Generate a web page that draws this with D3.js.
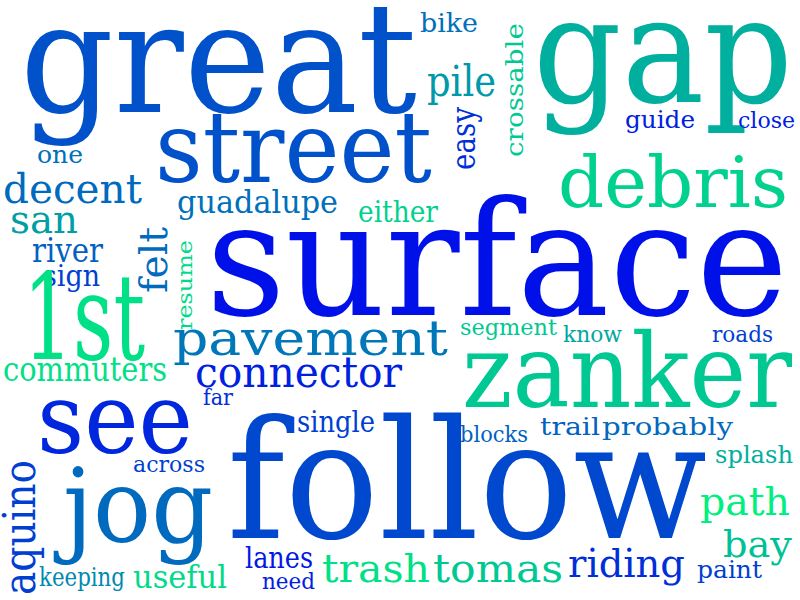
<!DOCTYPE html>
<html>
<head>
<meta charset="utf-8">
<script src="https://cdn.jsdelivr.net/npm/d3@7"></script>
<style>
  html, body { margin: 0; padding: 0; background: #fff; }
</style>
</head>
<body>
<div id="cloud"></div>
<script>
// words and their weight (read as x-height in px) and colour tone (0 = blue, 1 = green)
var words = ["great", "street", "one", "decent", "san", "river", "sign", "guadalupe", "either",
    "surface", "bike", "pile", "gap", "guide", "close", "debris", "1st", "commuters",
    "pavement", "connector", "far", "see", "across", "single", "jog", "keeping", "useful",
    "lanes", "need", "follow", "trash", "tomas", "segment", "know", "roads", "zanker",
    "blocks", "trail", "probably", "splash", "path", "bay", "riding", "paint",
    "felt", "resume", "crossable", "easy", "aquino"];
var weights = [80, 52, 13, 21, 20, 17, 15, 16, 15,
    83, 14, 22, 77, 13, 12, 37, 62, 17,
    25, 22, 12, 51, 12, 15, 54, 14, 16,
    15, 12, 86, 20, 20, 12, 12, 12, 54,
    12, 13, 13, 13, 20, 19, 20, 13,
    20, 11, 13, 17, 23];
var tones = [0.29, 0.29, 0.43, 0.40, 0.64, 0.36, 0.21, 0.43, 0.86,
    0.0, 0.43, 0.61, 0.71, 0.07, 0.07, 0.86, 0.93, 0.93,
    0.46, 0.07, 0.14, 0.10, 0.21, 0.21, 0.40, 0.54, 0.90,
    0.04, 0.07, 0.25, 0.93, 0.82, 0.82, 0.68, 0.21, 0.82,
    0.36, 0.36, 0.40, 0.71, 1.0, 0.79, 0.14, 0.21,
    0.40, 0.90, 0.82, 0.14, 0.21];

// cloud layout as it came out in the picture: baseline start, run length, turn
var baseX = [20, 155, 37, 3, 10, 32, 43, 177, 358,
    206, 420, 427, 533, 625, 738, 558, 23, 3,
    173, 195, 203, 37, 133, 297, 63, 39, 133,
    245, 262, 227, 322, 433, 460, 563, 712, 462,
    460, 540, 602, 715, 700, 723, 568, 697,
    167, 192, 523, 475, 35];
var baseY = [112, 182, 163, 203, 233, 262, 286, 213, 222,
    315, 32, 96, 102, 128, 128, 207, 359, 381,
    355, 387, 405, 453, 472, 432, 542, 586, 588,
    568, 589, 538, 582, 582, 335, 342, 342, 407,
    442, 435, 435, 463, 515, 557, 577, 578,
    293, 330, 157, 170, 595];
var spans = [397, 277, 46, 139, 68, 71, 57, 161, 80,
    582, 58, 69, 260, 70, 57, 230, 122, 164,
    275, 207, 30, 156, 72, 78, 150, 86, 94,
    68, 53, 480, 108, 130, 97, 59, 61, 330,
    68, 60, 131, 78, 90, 69, 117, 65,
    66, 90, 134, 63, 135];
var turns = [0, 0, 0, 0, 0, 0, 0, 0, 0,
    0, 0, 0, 0, 0, 0, 0, 0, 0,
    0, 0, 0, 0, 0, 0, 0, 0, 0,
    0, 0, 0, 0, 0, 0, 0, 0, 0,
    0, 0, 0, 0, 0, 0, 0, 0,
    -90, -90, -90, -90, -90];

var width = 800;
var height = 600;
var xRatio = 0.52; // DejaVu Serif x-height / em

var x = d3.scaleLinear().domain([0, 800]).range([0, width]);
var y = d3.scaleLinear().domain([0, 600]).range([0, height]);
var size = d3.scaleLinear().domain([0, d3.max(weights)]).range([0, d3.max(weights) / xRatio]);
var colour = d3.scaleLinear().domain([0, 1]).range(["#0010e8", "#00f080"]).interpolate(d3.interpolateRgb);

var rows = words.map(function(w, i) {
    return {text: w, weight: weights[i], tone: tones[i], bx: baseX[i], by: baseY[i], span: spans[i], turn: turns[i]};
});

var svg = d3.select("#cloud").
    append("svg").
    attr("width", width).
    attr("height", height);

svg.append("rect").attr("width", width).attr("height", height).attr("fill", "#fff");

svg.selectAll("text.word").
    data(rows).
    enter().
    append("text").
    attr("class", "word").
    attr("transform", function(d) { return "translate(" + x(d.bx) + "," + y(d.by) + ") rotate(" + d.turn + ")"; }).
    attr("font-family", "'DejaVu Serif', serif").
    attr("font-size", function(d) { return size(d.weight); }).
    attr("textLength", function(d) { return x(d.span); }).
    attr("lengthAdjust", "spacingAndGlyphs").
    attr("fill", function(d) { return colour(d.tone); }).
    text(function(d) { return d.text; });
</script>
</body>
</html>
